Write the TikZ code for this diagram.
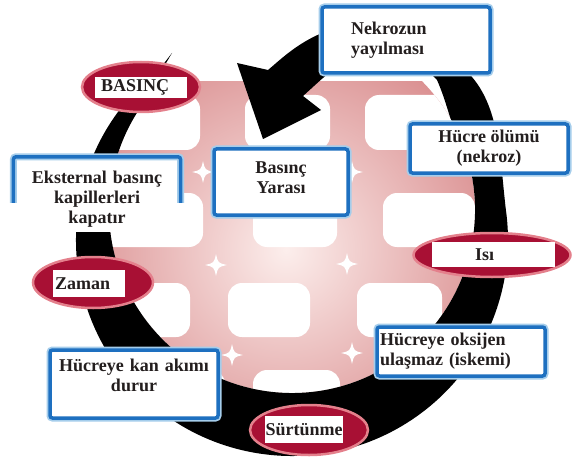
\documentclass[tikz,border=0pt]{standalone}
\usepackage{fontspec}
\setmainfont{Liberation Serif}
\usetikzlibrary{shapes.geometric}
\definecolor{kutumavi}{RGB}{30,112,192}
\definecolor{halomavi}{RGB}{165,205,235}
\definecolor{bordo}{RGB}{168,16,52}
\definecolor{bordokenar}{RGB}{228,128,140}
\definecolor{pembeic}{RGB}{252,238,236}
\definecolor{pembedis}{RGB}{200,92,95}
\definecolor{yazi}{RGB}{35,30,30}
\begin{document}
\begin{tikzpicture}[x=1pt,y=-1pt,
    bilgicizgi/.style={draw=kutumavi,line width=3.5pt,rounded corners=2.5pt,
      preaction={draw=halomavi,line width=7pt}},
    bilgi/.style={bilgicizgi,fill=white,inner ysep=0pt,
      font=\bfseries\fontsize{18}{20}\selectfont,text=yazi},
    elips/.style={ellipse,draw=bordokenar,fill=bordo,line width=2.5pt,inner sep=0pt},
    neden/.style={fill=white,inner xsep=0pt,inner ysep=0pt,
      font=\bfseries\fontsize{18}{20}\selectfont,text=yazi}]
  \useasboundingbox (0,0) rectangle (572,465);

  \begin{scope}
    \clip (292,210) circle[radius=183];
    \clip (0,82) rectangle (572,465);
    \shade[inner color=pembeic,outer color=pembedis] (286,250) circle[radius=340];
    \begin{scope}[white,rounded corners=14pt]
      \fill (100,95) rectangle (200,150);
      \fill (245,95) rectangle (330,150);
      \fill (365,95) rectangle (470,150);
      \fill (100,193) rectangle (203,247);
      \fill (253,193) rectangle (337,247);
      \fill (383,193) rectangle (475,247);
      \fill (100,283) rectangle (190,337);
      \fill (228,283) rectangle (310,337);
      \fill (357,283) rectangle (442,337);
      \fill (130,370) rectangle (225,430);
      \fill (253,370) rectangle (340,430);
      \fill (370,370) rectangle (460,430);
    \end{scope}
    \foreach \x/\y in {203/172,352/172,216/265,347/264,232/355,352/353}
      \fill[white] (\x,\y-11) .. controls (\x+2,\y-2) .. (\x+11,\y)
        .. controls (\x+2,\y+2) .. (\x,\y+11) .. controls (\x-2,\y+2) .. (\x-11,\y)
        .. controls (\x-2,\y-2) .. (\x,\y-11);
  \end{scope}

  \fill[black] (172,53) -- (159,69.8)
    arc[start angle=232,end angle=-8,radius=216]
    .. controls (500,160) and (500,110) .. (472,77)
    .. controls (430,25) and (360,18) .. (322,33)
    .. controls (296,44) and (280,60) .. (268,70)
    -- (237,63) -- (263,139) -- (321,110) -- (303,96)
    .. controls (312,88) and (318,82) .. (330,72)
    .. controls (372,50) and (418,58) .. (437,80)
    .. controls (444,96) and (447,108) .. (450.5,118.5)
    arc[start angle=-30,end angle=212,radius=183]
    .. controls (150,90) and (162,70) .. (172,53) -- cycle;

  \node[bilgi,minimum width=168pt,minimum height=66pt,text width=110pt,inner xsep=29pt,align=left] (nekroz) at (406,40) {Nekrozun\\yayılması};
  \node[bilgi,minimum width=158pt,minimum height=49pt,align=center] (olum) at (489,148.5) {Hücre ölümü\\(nekroz)};
  \node[bilgi,minimum width=134pt,minimum height=66pt,text width=120pt,align=center,
    text height=13pt,text depth=31pt] (yara) at (281,182) {Basınç\\Yarası};
  \node[bilgi,minimum width=168pt,minimum height=68pt,text width=160pt,align=center,
    text height=13pt,text depth=39pt] (kan) at (134,384) {Hücreye kan akımı\\durur};
  \node[bilgi,minimum width=168pt,minimum height=49pt,text width=162pt,inner xsep=3pt,align=left] (oksijen) at (461,351.5) {Hücreye oksijen\\ulaşmaz (iskemi)};
  \node[fill=white,minimum width=166pt,minimum height=75pt,inner ysep=0pt,text width=160pt,align=center,
    text height=13pt,text depth=36pt,
    font=\bfseries\fontsize{18}{20}\selectfont,text=yazi] (dis) at (97,194.5) {Eksternal basınç\\kapillerleri\\kapatır};
  \draw[bilgicizgi] ([yshift=-46pt]dis.north west) -- (dis.north west) -- (dis.north east) -- ([yshift=-46pt]dis.north east);

  \node[elips,minimum width=118pt,minimum height=50pt] (basincE) at (141,87) {};
  \node[neden,minimum width=92pt,minimum height=21pt,text width=80pt,inner xsep=6pt,align=left] (basinc) at (141,87.5) {BASINÇ};
  \node[elips,minimum width=120pt,minimum height=51pt] (zamanE) at (93,282.5) {};
  \node[neden,minimum width=72pt,minimum height=27pt,text width=68pt,inner xsep=2pt,align=left] (zaman) at (89,283.5) {Zaman};
  \node[elips,minimum width=157pt,minimum height=44pt] (isiE) at (492,255) {};
  \node[neden,minimum width=123pt,minimum height=25pt,text width=37pt,inner xsep=43pt,align=left] (isi) at (493.5,254.5) {Isı};
  \node[elips,minimum width=118pt,minimum height=50pt] (surtE) at (309,430) {};
  \node[neden,minimum width=78pt,minimum height=27pt] (surt) at (304,429.5) {Sürtünme};
\end{tikzpicture}
\end{document}
